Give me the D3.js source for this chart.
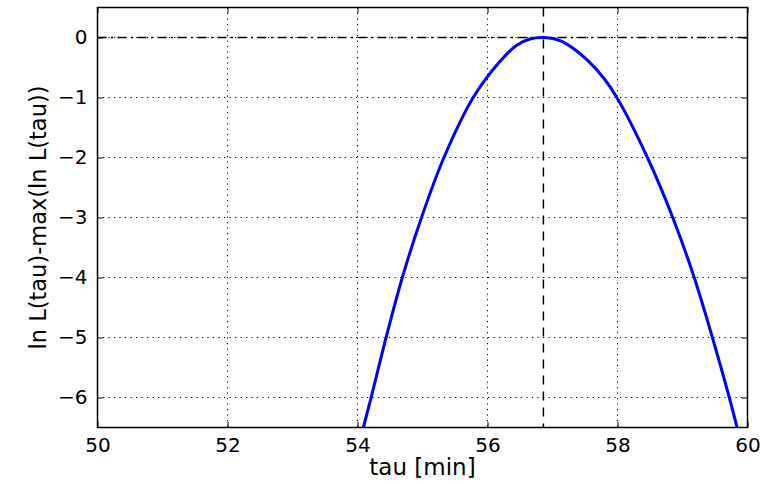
<!DOCTYPE html>
<html>
<head>
<meta charset="utf-8">
<script src="https://cdn.jsdelivr.net/npm/d3@7"></script>
<style>
  html, body { margin: 0; padding: 0; background: #fff; }
  svg { display: block; font-family: "DejaVu Sans", sans-serif; }
</style>
</head>
<body>
<svg id="chart" width="773" height="484"></svg>
<script>
// Log-likelihood profile, relative to its maximum
const tauMin = [54.09, 54.21, 54.44, 54.69, 54.985, 55.33, 55.78, 56.19, 56.45, 56.65,
                56.86, 57.04, 57.22, 57.54, 57.79, 57.99, 58.46, 58.85, 59.18, 59.46, 59.72, 59.84];
const lnLRel = [-6.5, -6.0, -5.0, -4.0, -3.0, -2.0, -1.0, -0.40, -0.13, -0.025,
                0.0, -0.025, -0.11, -0.38, -0.68, -1.0, -2.0, -3.0, -4.0, -5.0, -6.0, -6.5];
const tauBest = 56.86;
const xTicks = [50, 52, 54, 56, 58, 60];
const yTicks = [0, -1, -2, -3, -4, -5, -6];
const xDomain = [50, 60];
const yDomain = [-6.5, 0.5];

const svg = d3.select("#chart");
const m = { left: 97.5, right: 773 - 747.5, top: 7.5, bottom: 484 - 427.5 };
const W = 773 - m.left - m.right;
const H = 484 - m.top - m.bottom;

const x = d3.scaleLinear().domain(xDomain).range([0, W]);
const y = d3.scaleLinear().domain(yDomain).range([H, 0]);

const g = svg.append("g").attr("transform", `translate(${m.left},${m.top})`);

svg.append("defs").append("clipPath").attr("id", "plotclip")
  .append("rect").attr("width", W).attr("height", H);

// dotted grid
const grid = g.append("g");
grid.selectAll("line.gx").data(xTicks).join("line")
  .attr("x1", d => x(d)).attr("x2", d => x(d)).attr("y1", 0).attr("y2", H)
  .attr("stroke", "#000").attr("stroke-width", 1).attr("stroke-dasharray", "1.2,4.3");
grid.selectAll("line.gy").data(yTicks).join("line")
  .attr("y1", d => y(d)).attr("y2", d => y(d)).attr("x1", 0).attr("x2", W)
  .attr("stroke", "#000").attr("stroke-width", 1).attr("stroke-dasharray", "1.2,4.3");

// reference lines: maximum level and best tau
g.append("line")
  .attr("x1", 0).attr("x2", W).attr("y1", y(0)).attr("y2", y(0))
  .attr("stroke", "#000").attr("stroke-width", 1.5).attr("stroke-dasharray", "9,4.5,2,4.5");
g.append("line")
  .attr("x1", x(tauBest)).attr("x2", x(tauBest)).attr("y1", 0).attr("y2", H)
  .attr("stroke", "#000").attr("stroke-width", 1.5).attr("stroke-dasharray", "9,7");

// profile curve
const pts = tauMin.map((t, i) => [t, lnLRel[i]]);
const line = d3.line().x(d => x(d[0])).y(d => y(d[1])).curve(d3.curveCatmullRom.alpha(0.5));
g.append("path").datum(pts)
  .attr("clip-path", "url(#plotclip)")
  .attr("d", line)
  .attr("fill", "none").attr("stroke", "#0000ff").attr("stroke-width", 3);

// axes with inward ticks on all sides
const fmt = d3.format("d");
const axB = g.append("g").attr("transform", `translate(0,${H})`)
  .call(d3.axisBottom(x).tickValues(xTicks).tickFormat(fmt).tickSizeInner(-5.5).tickSizeOuter(0).tickPadding(10));
const axT = g.append("g")
  .call(d3.axisTop(x).tickValues(xTicks).tickFormat("").tickSizeInner(-5.5).tickSizeOuter(0));
const axL = g.append("g")
  .call(d3.axisLeft(y).tickValues(yTicks).tickFormat(fmt).tickSizeInner(-5.5).tickSizeOuter(0).tickPadding(10));
const axR = g.append("g").attr("transform", `translate(${W},0)`)
  .call(d3.axisRight(y).tickValues(yTicks).tickFormat("").tickSizeInner(-5.5).tickSizeOuter(0));

[axB, axT, axL, axR].forEach(a => {
  a.select(".domain").remove();
  a.selectAll(".tick line").attr("stroke", "#000").attr("stroke-width", 1);
  a.selectAll("text").attr("font-family", "DejaVu Sans, sans-serif").attr("font-size", 20).attr("fill", "#000");
});

g.append("rect").attr("width", W).attr("height", H)
  .attr("fill", "none").attr("stroke", "#000").attr("stroke-width", 1.5);

// axis titles
svg.append("text")
  .attr("x", m.left + W / 2).attr("y", 475)
  .attr("text-anchor", "middle").attr("font-size", 23).attr("fill", "#000")
  .text("tau [min]");
svg.append("text")
  .attr("transform", `translate(46,${m.top + H / 2}) rotate(-90)`)
  .attr("text-anchor", "middle").attr("font-size", 22.5).attr("fill", "#000")
  .text("ln L(tau)-max(ln L(tau))");
</script>
</body>
</html>
